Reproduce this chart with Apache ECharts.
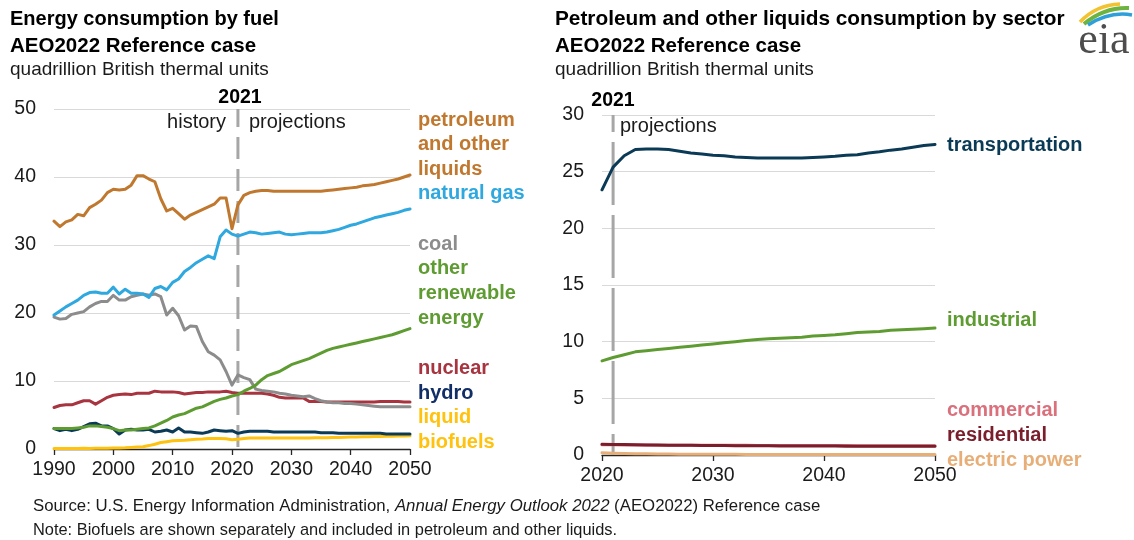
<!DOCTYPE html>
<html>
<head>
<meta charset="utf-8">
<script src="https://cdn.jsdelivr.net/npm/echarts@6/dist/echarts.min.js"></script>
<style>
html,body{margin:0;padding:0;background:#fff;}
#main{width:1134px;height:540px;}
</style>
</head>
<body>
<div id="main"></div>
<script>
// ---------- data: left chart (energy consumption by fuel) ----------
const years = [1990,1991,1992,1993,1994,1995,1996,1997,1998,1999,
  2000,2001,2002,2003,2004,2005,2006,2007,2008,2009,
  2010,2011,2012,2013,2014,2015,2016,2017,2018,2019,
  2020,2021,2022,2023,2024,2025,2026,2027,2028,2029,
  2030,2031,2032,2033,2034,2035,2036,2037,2038,2039,
  2040,2041,2042,2043,2044,2045,2046,2047,2048,2049,2050];
const petroleum = [33.5,32.7,33.4,33.7,34.5,34.3,35.5,36.0,36.6,37.7,
  38.2,38.1,38.2,38.8,40.2,40.2,39.7,39.3,36.8,35.0,
  35.4,34.6,33.8,34.4,34.8,35.2,35.6,36.0,36.9,36.9,
  32.4,35.9,37.3,37.7,37.9,38.0,38.0,37.9,37.9,37.9,
  37.9,37.9,37.9,37.9,37.9,37.9,38.0,38.1,38.2,38.3,
  38.4,38.5,38.7,38.8,38.9,39.1,39.3,39.5,39.7,40.0,40.3];
const naturalGas = [19.7,20.3,20.9,21.4,21.9,22.6,23.0,23.1,22.9,22.9,
  23.8,22.8,23.5,22.9,22.9,22.8,22.3,23.6,23.9,23.4,
  24.5,25.0,26.1,26.7,27.4,27.9,28.4,28.0,31.2,32.2,
  31.6,31.3,31.6,31.9,31.8,31.6,31.7,31.8,31.9,31.6,
  31.5,31.6,31.7,31.8,31.8,31.8,31.9,32.1,32.3,32.6,
  32.9,33.1,33.4,33.7,34.0,34.2,34.4,34.6,34.8,35.1,35.3];
const coal = [19.4,19.1,19.2,19.8,20.0,20.2,20.9,21.4,21.7,21.7,
  22.6,21.9,21.9,22.4,22.6,22.8,22.6,22.8,22.4,19.7,
  20.7,19.6,17.5,18.1,18.0,15.8,14.3,13.8,13.1,11.4,
  9.4,10.9,10.5,10.2,8.8,8.6,8.5,8.4,8.2,8.1,
  7.9,7.8,7.7,7.8,7.4,7.1,6.9,6.8,6.8,6.7,
  6.7,6.6,6.5,6.4,6.3,6.2,6.2,6.2,6.2,6.2,6.2];
const otherRenewable = [3.0,3.0,3.0,3.0,3.1,3.2,3.4,3.4,3.3,3.2,
  3.0,2.7,2.8,2.8,2.9,3.0,3.1,3.4,3.8,4.2,
  4.7,5.0,5.2,5.6,6.0,6.2,6.6,7.0,7.3,7.5,
  7.8,8.0,8.5,8.9,9.4,10.2,10.8,11.1,11.4,11.9,
  12.4,12.7,13.0,13.3,13.7,14.1,14.5,14.8,15.0,15.2,
  15.4,15.6,15.8,16.0,16.2,16.4,16.6,16.8,17.1,17.4,17.7];
const nuclear = [6.1,6.4,6.5,6.5,6.8,7.1,7.1,6.6,7.1,7.6,
  7.9,8.0,8.1,8.0,8.2,8.2,8.2,8.5,8.4,8.4,
  8.4,8.3,8.1,8.2,8.3,8.3,8.4,8.4,8.4,8.5,
  8.3,8.2,8.2,8.2,8.2,8.2,8.1,7.9,7.6,7.5,
  7.5,7.5,7.5,7.0,7.0,7.0,6.9,6.9,6.9,6.9,
  6.9,6.9,6.9,6.9,6.9,7.0,7.0,7.0,7.0,6.9,6.9];
const hydro = [3.0,2.7,2.9,2.7,2.9,3.3,3.7,3.8,3.4,3.4,
  3.0,2.2,2.8,2.9,2.8,2.8,2.9,2.5,2.6,2.8,
  2.5,3.1,2.5,2.5,2.4,2.3,2.5,2.8,2.7,2.6,
  2.7,2.3,2.5,2.6,2.6,2.6,2.6,2.5,2.5,2.5,
  2.5,2.5,2.5,2.5,2.5,2.4,2.4,2.4,2.3,2.3,
  2.3,2.3,2.3,2.3,2.3,2.3,2.2,2.2,2.2,2.2,2.2];
const biofuels = [0.06,0.06,0.07,0.08,0.09,0.10,0.09,0.10,0.11,0.11,
  0.13,0.14,0.17,0.23,0.28,0.34,0.50,0.70,0.95,1.07,
  1.20,1.26,1.28,1.35,1.43,1.48,1.55,1.56,1.55,1.50,
  1.35,1.45,1.55,1.60,1.60,1.60,1.60,1.60,1.60,1.60,
  1.60,1.60,1.62,1.63,1.64,1.65,1.67,1.68,1.70,1.72,
  1.75,1.77,1.79,1.81,1.83,1.85,1.87,1.89,1.91,1.93,1.95];
const leftYTicks = [0, 50, 10];      // min, max, interval
const leftXTicks = [1990, 2050, 10];

// ---------- data: right chart (petroleum by sector) ----------
const yearsR = [2020,2021,2022,2023,2024,2025,2026,2027,2028,2029,
  2030,2031,2032,2033,2034,2035,2036,2037,2038,2039,
  2040,2041,2042,2043,2044,2045,2046,2047,2048,2049,2050];
const transportation = [23.4,25.4,26.4,26.95,27.0,27.0,26.95,26.8,26.65,26.55,
  26.45,26.4,26.3,26.25,26.2,26.2,26.2,26.2,26.2,26.25,
  26.3,26.35,26.45,26.5,26.65,26.75,26.9,27.0,27.15,27.3,27.4];
const industrial = [8.3,8.6,8.85,9.1,9.2,9.3,9.4,9.5,9.6,9.7,
  9.8,9.9,10.0,10.1,10.2,10.25,10.3,10.35,10.4,10.5,
  10.55,10.6,10.7,10.8,10.85,10.9,11.0,11.05,11.1,11.15,11.2];
const commercial = [0.90,0.90,0.89,0.88,0.88,0.87,0.87,0.86,0.86,0.86,
  0.85,0.85,0.85,0.85,0.84,0.84,0.84,0.84,0.83,0.83,
  0.83,0.83,0.83,0.82,0.82,0.82,0.82,0.82,0.82,0.82,0.82];
const residential = [0.95,0.93,0.92,0.90,0.89,0.88,0.87,0.86,0.85,0.84,
  0.83,0.83,0.82,0.82,0.81,0.81,0.80,0.80,0.80,0.79,
  0.79,0.79,0.78,0.78,0.78,0.78,0.77,0.77,0.77,0.77,0.77];
const electricPower = [0.20,0.16,0.13,0.11,0.10,0.09,0.08,0.07,0.07,0.06,
  0.06,0.06,0.06,0.05,0.05,0.05,0.05,0.05,0.05,0.05,
  0.05,0.05,0.05,0.05,0.05,0.05,0.05,0.05,0.05,0.05,0.05];
const rightYTicks = [0, 30, 5];
const rightXTicks = [2020, 2050, 10];

const dividerYear = 2021;

// ---------- build ----------
const FONT = "'Liberation Sans', Arial, Helvetica, sans-serif";
function pairs(xs, ys) { return xs.map((x, i) => [x, ys[i]]); }

function lineSeries(name, xs, ys, color, idx, z, width) {
  return {
    name: name, type: 'line', xAxisIndex: idx, yAxisIndex: idx,
    data: pairs(xs, ys), symbol: 'none', smooth: false, z: z,
    lineStyle: { color: color, width: width || 3, cap: 'round', join: 'round' },
    silent: true, animation: false
  };
}
function dividerSeries(idx, top, dash, offset) {
  return {
    type: 'line', xAxisIndex: idx, yAxisIndex: idx,
    data: [[dividerYear, top], [dividerYear, 0]], symbol: 'none', z: 1,
    lineStyle: { color: '#A6A6A6', width: 3, type: dash, dashOffset: offset },
    silent: true, animation: false
  };
}

const axisLabelStyle = { color: '#1a1a1a', fontSize: 19.5, fontFamily: FONT };

function xAxisCfg(idx, t) {
  return {
    type: 'value', gridIndex: idx, min: t[0], max: t[1], interval: t[2],
    axisLine: { show: true, lineStyle: { color: '#262626', width: 1.3 } },
    axisTick: { show: true, length: 6, lineStyle: { color: '#262626', width: 1.3 } },
    axisLabel: Object.assign({ margin: 11, formatter: v => String(v) }, axisLabelStyle),
    splitLine: { show: false }
  };
}
function yAxisCfg(idx, t) {
  return {
    type: 'value', gridIndex: idx, min: t[0], max: t[1], interval: t[2],
    axisLine: { show: false }, axisTick: { show: false },
    axisLabel: Object.assign({ margin: 18 }, axisLabelStyle),
    splitLine: { show: true, lineStyle: { color: '#D9D9D9', width: 1 } }
  };
}

function txt(text, x, y, color, size, weight, align) {
  return {
    type: 'text', x: x, y: y, silent: true,
    style: {
      text: text, fill: color, fontSize: size, fontWeight: weight || 'normal',
      fontFamily: FONT, textAlign: align || 'left', textVerticalAlign: 'middle', verticalAlign: 'middle'
    }
  };
}

const C = {
  petroleum: '#C0782F', gas: '#2EA8DF', coal: '#8C8C8C', renew: '#5E9C32',
  nuclear: '#A7343F', hydroLine: '#0B3A57', hydroLabel: '#112F66', bio: '#FFC20E',
  transport: '#0A3A55', industrial: '#5E9C32', commercial: '#D9707C',
  residential: '#7A1E2C', electric: '#E8AE78'
};

const graphics = [
  txt('Energy consumption by fuel', 10, 19, '#000', 20, 'bold'),
  txt('AEO2022 Reference case', 10, 46, '#000', 20.5, 'bold'),
  txt('quadrillion British thermal units', 10, 70, '#1a1a1a', 19),
  txt('Petroleum and other liquids consumption by sector', 555, 19, '#000', 20.8, 'bold'),
  txt('AEO2022 Reference case', 555, 46, '#000', 20.5, 'bold'),
  txt('quadrillion British thermal units', 555, 70, '#1a1a1a', 19),

  txt('2021', 240, 98, '#000', 19.5, 'bold', 'center'),
  txt('history', 226, 122, '#1a1a1a', 20, 'normal', 'right'),
  txt('projections', 249, 122, '#1a1a1a', 20),
  txt('2021', 613, 101, '#000', 19.5, 'bold', 'center'),
  txt('projections', 620, 126, '#1a1a1a', 20),

  txt('petroleum', 418, 120, C.petroleum, 20, 'bold'),
  txt('and other', 418, 144, C.petroleum, 20, 'bold'),
  txt('liquids', 418, 169, C.petroleum, 20, 'bold'),
  txt('natural gas', 418, 193, C.gas, 20, 'bold'),
  txt('coal', 418, 244, C.coal, 20, 'bold'),
  txt('other', 418, 268, C.renew, 20, 'bold'),
  txt('renewable', 418, 293, C.renew, 20, 'bold'),
  txt('energy', 418, 318, C.renew, 20, 'bold'),
  txt('nuclear', 418, 368, C.nuclear, 20, 'bold'),
  txt('hydro', 418, 393, C.hydroLabel, 20, 'bold'),
  txt('liquid', 418, 417, C.bio, 20, 'bold'),
  txt('biofuels', 418, 442, C.bio, 20, 'bold'),

  txt('transportation', 947, 145, C.transport, 20, 'bold'),
  txt('industrial', 947, 320, C.industrial, 20, 'bold'),
  txt('commercial', 947, 410, C.commercial, 20, 'bold'),
  txt('residential', 947, 435, C.residential, 20, 'bold'),
  txt('electric power', 947, 460, C.electric, 20, 'bold'),

  {
    type: 'text', x: 33, y: 506, silent: true,
    style: {
      text: 'Source: U.S. Energy Information Administration, {i|Annual Energy Outlook 2022} (AEO2022) Reference case',
      fill: '#1a1a1a', fontSize: 16.8, fontFamily: FONT, textVerticalAlign: 'middle', verticalAlign: 'middle',
      rich: { i: { fontStyle: 'italic', fontSize: 16.8, fontFamily: FONT, fill: '#1a1a1a' } }
    }
  },
  txt('Note: Biofuels are shown separately and included in petroleum and other liquids.', 33, 530, '#1a1a1a', 16.4),

  // eia logo
  { type: 'bezierCurve', silent: true, shape: { x1: 1080, y1: 22, cpx1: 1096, cpy1: 5, x2: 1120, y2: 4 },
    style: { stroke: '#F2C230', lineWidth: 3.5, fill: null } },
  { type: 'bezierCurve', silent: true, shape: { x1: 1084, y1: 24, cpx1: 1104, cpy1: 7, x2: 1129, y2: 8 },
    style: { stroke: '#6DB33F', lineWidth: 4, fill: null } },
  { type: 'bezierCurve', silent: true, shape: { x1: 1088, y1: 25, cpx1: 1110, cpy1: 11, x2: 1132, y2: 15 },
    style: { stroke: '#2E9FD8', lineWidth: 3.5, fill: null } },
  { type: 'text', x: 1104, y: 63, silent: true,
    style: { text: 'eia', fill: '#4D4D4D', fontSize: 44, fontFamily: "'Liberation Serif', 'DejaVu Serif', serif",
      textAlign: 'center', textVerticalAlign: 'bottom', verticalAlign: 'bottom' } }
];

const option = {
  backgroundColor: '#ffffff',
  animation: false,
  grid: [
    { left: 54, top: 109, width: 356, height: 340 },
    { left: 602, top: 115, width: 333, height: 340 }
  ],
  xAxis: [xAxisCfg(0, leftXTicks), xAxisCfg(1, rightXTicks)],
  yAxis: [yAxisCfg(0, leftYTicks), yAxisCfg(1, rightYTicks)],
  series: [
    dividerSeries(0, leftYTicks[1], [22, 10], 4),
    lineSeries('liquid biofuels', years, biofuels, C.bio, 0, 2),
    lineSeries('hydro', years, hydro, C.hydroLine, 0, 3),
    lineSeries('nuclear', years, nuclear, C.nuclear, 0, 4),
    lineSeries('coal', years, coal, C.coal, 0, 5),
    lineSeries('other renewable energy', years, otherRenewable, C.renew, 0, 6),
    lineSeries('natural gas', years, naturalGas, C.gas, 0, 7),
    lineSeries('petroleum and other liquids', years, petroleum, C.petroleum, 0, 8),

    dividerSeries(1, rightYTicks[1], [63, 10], 46),
    lineSeries('electric power', yearsR, electricPower, C.electric, 1, 2),
    lineSeries('commercial', yearsR, commercial, C.commercial, 1, 3),
    lineSeries('residential', yearsR, residential, C.residential, 1, 4),
    lineSeries('industrial', yearsR, industrial, C.industrial, 1, 5),
    lineSeries('transportation', yearsR, transportation, C.transport, 1, 6)
  ],
  graphic: graphics
};

const chart = echarts.init(document.getElementById('main'));
chart.setOption(option);
</script>
</body>
</html>
